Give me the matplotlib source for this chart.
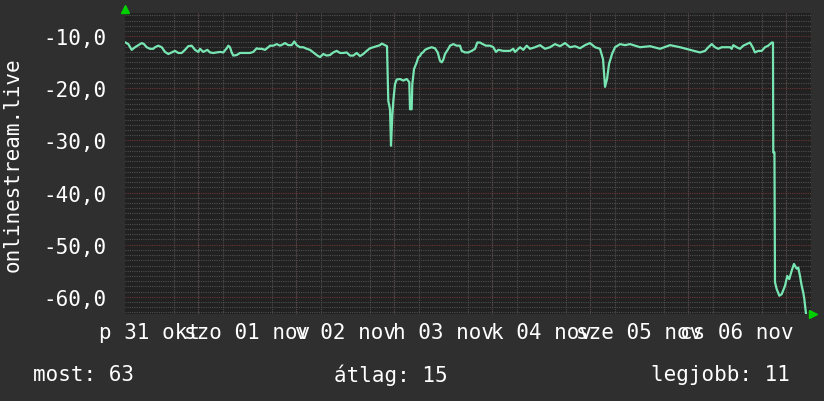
import matplotlib
matplotlib.use("Agg")
import matplotlib.pyplot as plt
from matplotlib.ticker import MultipleLocator

# time in hours since 31 Oct 00:00, value
hours = [6.12, 6.93, 7.76, 8.57, 9.38, 10.21, 10.77, 11.43, 12.24, 13.05, 13.47, 14.27, 15.11, 15.92,
         16.72, 17.56, 18.36, 19.17, 20.01, 20.81, 21.62, 22.45, 23.26, 24.07, 24.49, 25.30, 26.28,
         26.94, 27.74, 28.58, 29.39, 30.19, 31.03, 31.42, 31.83, 32.25, 32.64, 33.48, 34.28, 35.09,
         35.92, 36.73, 37.54, 38.37,
         38.76, 39.60, 40.41, 41.21, 41.63, 42.44, 43.27, 44.08, 44.89, 45.30, 46.11, 46.94, 47.58,
         48.17, 48.98, 49.79, 50.62, 51.43, 52.23, 53.07, 53.88, 54.68, 55.52, 56.32, 57.13, 57.97,
         58.77, 59.58, 60.41, 61.22, 62.03, 62.86, 63.67, 64.48, 65.31, 66.12, 66.93, 67.76, 68.57,
         68.99, 69.79, 70.28, 70.60, 71.02, 71.26, 71.58, 71.83, 72.24, 72.66, 73.47, 74.28, 75.11,
         75.74, 75.92, 76.33, 76.48, 76.90, 77.56, 77.95, 78.37, 78.78, 79.10, 79.59, 80.40, 81.23,
         82.04, 82.70, 83.26, 83.68, 84.07, 84.49, 85.30, 85.71, 86.52, 87.35, 88.16, 88.58, 89.39,
         90.19, 91.03, 91.84, 92.40, 93.06, 93.72, 94.53, 95.51, 96.32, 96.98, 97.54, 98.77, 99.60,
         100.41, 101.21, 101.63, 102.44, 102.86, 103.66, 104.50, 105.30,
         106.53, 107.76, 108.98, 110.21, 111.43, 112.66, 113.88, 115.11, 116.33, 117.56, 118.78,
         120.01, 121.23, 122.45, 123.19, 123.68, 124.17, 124.66, 125.39, 126.13, 127.35, 128.58,
         129.80, 132.25, 134.70, 137.15, 139.60, 142.05, 144.50,
         146.94, 148.17, 148.97, 149.81, 150.61, 151.42, 152.25, 153.48, 154.28, 154.70, 155.09,
         155.92, 156.73, 157.54, 158.37, 159.18, 159.84, 160.40, 161.21, 162.04, 162.85, 163.66,
         164.49, 164.81, 164.88, 165.17, 165.30, 165.71, 166.36, 166.94, 167.75, 168.31, 168.80,
         169.39, 169.95, 170.61, 171.01, 171.42, 171.84, 172.23, 172.48, 172.90]
values = [-11.15, -11.5, -12.6, -12.1, -11.7, -11.3, -11.5, -12.1, -12.4, -12.4, -12.1, -11.8, -12.1,
          -13.0, -13.4, -13.1, -12.8, -13.2, -13.2, -12.6, -11.9, -11.8, -12.6, -13.0, -12.4, -13.0,
          -12.6, -13.1, -13.2, -13.1, -13.0, -13.1, -12.3, -11.8, -12.1, -13.1, -13.7, -13.6, -13.2,
          -13.2, -13.2, -13.2, -13.0, -12.3,
          -12.4, -12.4, -12.6, -12.1, -11.8, -11.8, -11.5, -11.8, -11.5, -11.3, -11.7, -11.7, -11.0,
          -11.7, -12.1, -12.1, -12.4, -12.6, -13.1, -13.6, -14.0, -13.4, -13.7, -13.6, -13.1, -12.8,
          -13.2, -13.2, -13.1, -13.7, -13.7, -13.2, -13.8, -13.4, -12.8, -12.3, -12.1, -11.9, -11.7,
          -11.4, -11.7, -11.9, -22.4, -24.0, -31.0, -25.2, -22.4, -19.2, -18.3, -18.2, -18.5, -18.2,
          -18.8, -24.0, -24.0, -19.2, -16.3, -15.0, -14.0, -13.8, -13.2, -13.1, -12.6, -12.3, -12.1,
          -12.3, -13.1, -14.7, -15.0, -14.5, -13.4, -12.4, -11.8, -11.5, -11.8, -11.8, -12.8, -13.1,
          -13.1, -12.8, -12.4, -11.2, -11.2, -11.5, -11.8, -11.8, -12.1, -13.0, -12.6, -12.8, -12.8,
          -12.8, -12.4, -13.0, -12.4, -12.1, -12.6, -11.8, -12.4,
          -12.1, -11.7, -12.4, -12.1, -11.5, -11.9, -11.3, -12.1, -11.9, -12.3, -11.7, -11.3, -12.1,
          -12.4, -14.4, -19.7, -18.2, -15.3, -13.4, -12.1, -11.5, -11.7, -11.5, -12.1, -11.9, -12.4,
          -11.7, -12.1, -12.6,
          -13.1, -12.8, -12.1, -11.5, -12.1, -12.4, -12.1, -12.1, -12.1, -12.4, -11.7, -12.1, -12.4,
          -11.8, -11.5, -11.2, -12.1, -13.1, -12.8, -12.8, -12.1, -11.8, -11.2, -11.2, -32.3, -32.3,
          -57.2, -58.5, -59.8, -59.5, -57.9, -56.0, -56.6, -55.0, -53.7, -54.6, -54.4, -56.0, -57.9,
          -59.2, -60.4, -63.3]

day_labels = ["p 31 okt", "szo 01 nov", "v 02 nov", "h 03 nov", "k 04 nov", "sze 05 nov", "cs 06 nov"]
day_noon = [12, 36, 60, 84, 108, 132, 156]
day_midnight = [24, 48, 72, 96, 120, 144, 168]
y_major = [-60, -50, -40, -30, -20, -10]
y_labels = ["-60,0", "-50,0", "-40,0", "-30,0", "-20,0", "-10,0"]
legend_items = ["most: 63", "átlag: 15", "legjobb: 11"]
ylabel = "onlinestream.live"

BG = "#2f2f2f"
PLOT_BG = "#212121"
LINE = "#78e6b2"
MINOR = "#4e4e4e"
MAJOR = "#6e3434"
FONT = "DejaVu Sans Mono"
FS = 15

W, H = 824, 402
fig = plt.figure(figsize=(W / 100, H / 100), dpi=100, facecolor=BG)
L, R, T, B = 125, 811, 14, 315
ax = fig.add_axes([L / W, 1 - B / H, (R - L) / W, (B - T) / H])
ax.set_facecolor(PLOT_BG)
ax.set_xlim(6.12, 174.12)
ax.set_ylim(-63.3, -5.53)

for s in ax.spines.values():
    s.set_visible(False)

# grid
ax.xaxis.set_minor_locator(MultipleLocator(6))
ax.yaxis.set_minor_locator(MultipleLocator(1))
ax.grid(which="minor", color=MINOR, linestyle=(0, (1, 1)), linewidth=0.8)
for d in day_midnight:
    ax.axvline(d, color=MAJOR, linestyle=(0, (1, 1)), linewidth=0.8, zorder=1)
for v in y_major:
    ax.axhline(v, color=MAJOR, linestyle=(0, (1, 1)), linewidth=0.8, zorder=1)

ax.plot(hours, values, color=LINE, linewidth=1.6, zorder=3)

ax.set_xticks(day_noon)
ax.set_xticklabels(day_labels, fontfamily=FONT, fontsize=FS, color="white")
ax.set_yticks(y_major)
ax.set_yticklabels(y_labels, fontfamily=FONT, fontsize=FS, color="white")
ax.tick_params(which="both", length=0)
ax.tick_params(axis="x", pad=6)
ax.tick_params(axis="y", pad=13)

fig.text(13 / W, 1 - 165 / H, ylabel, rotation=90, ha="center", va="center",
         fontfamily=FONT, fontsize=FS, color="white")

# arrows
ax.plot([0], [1.012], marker="^", color="#00d000", markersize=6, clip_on=False,
        transform=ax.transAxes, zorder=5)
ax.plot([1.003], [0], marker=">", color="#00d000", markersize=6, clip_on=False,
        transform=ax.transAxes, zorder=5)

ly = 1 - 375 / H
fig.text(33 / W, ly, legend_items[0], ha="left", va="center", fontfamily=FONT, fontsize=FS, color="white")
fig.text(334 / W, ly, legend_items[1], ha="left", va="center", fontfamily=FONT, fontsize=FS, color="white")
fig.text(790 / W, ly, legend_items[2], ha="right", va="center", fontfamily=FONT, fontsize=FS, color="white")

fig.savefig("out.png", dpi=100, facecolor=BG)
